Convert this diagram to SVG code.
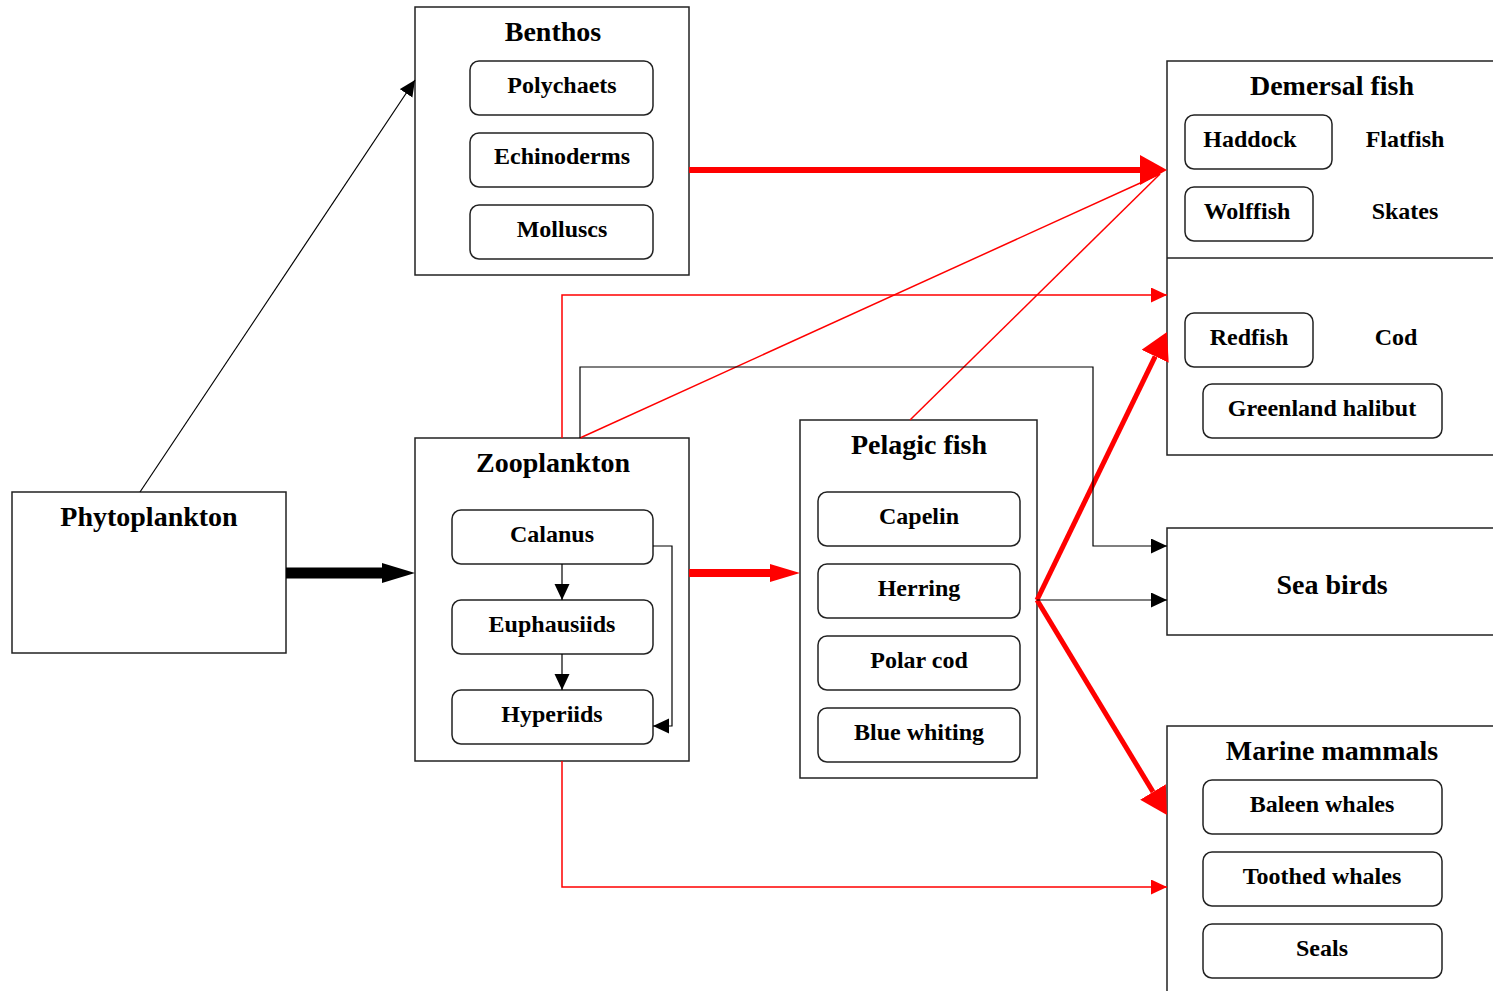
<svg xmlns="http://www.w3.org/2000/svg" width="1493" height="991" viewBox="0 0 1493 991">
<style>
.box{fill:#fff;stroke:#222;stroke-width:1.5}
.item{fill:#fff;stroke:#222;stroke-width:1.5}
.title{font-family:"Liberation Serif","Times New Roman",serif;font-weight:bold;font-size:28px;text-anchor:middle;fill:#000}
.lbl{font-family:"Liberation Serif","Times New Roman",serif;font-weight:bold;font-size:24px;text-anchor:middle;fill:#000}
.thin{fill:none;stroke:#000;stroke-width:1.2}
.thinred{fill:none;stroke:#f00;stroke-width:1.5}
</style>
<defs>
<marker id="aThin" markerUnits="userSpaceOnUse" orient="auto" markerWidth="16" markerHeight="16" refX="16" refY="7.5" viewBox="0 0 16 16"><path d="M0,0 L16,7.5 L0,15 z" fill="#000"/></marker>
<marker id="aThinRed" markerUnits="userSpaceOnUse" orient="auto" markerWidth="16" markerHeight="16" refX="16" refY="7.5" viewBox="0 0 16 16"><path d="M0,0 L16,7.5 L0,15 z" fill="#f00"/></marker>
<marker id="aBigBlack" markerUnits="userSpaceOnUse" orient="auto" markerWidth="34" markerHeight="22" refX="0" refY="10" viewBox="0 0 34 22"><path d="M0,0 L33,10 L0,20 z" fill="#000"/></marker>
<marker id="aBigRed" markerUnits="userSpaceOnUse" orient="auto" markerWidth="28" markerHeight="32" refX="0" refY="15" viewBox="0 0 28 32"><path d="M0,0 L27,15 L0,30 z" fill="#f00"/></marker>
<marker id="aMidRed" markerUnits="userSpaceOnUse" orient="auto" markerWidth="31" markerHeight="20" refX="0" refY="9" viewBox="0 0 31 20"><path d="M0,0 L30,9 L0,18 z" fill="#f00"/></marker>
<marker id="aDiagRed" markerUnits="userSpaceOnUse" orient="auto" markerWidth="28" markerHeight="32" refX="0" refY="15" viewBox="0 0 28 32"><path d="M0,0 L27,15 L0,30 z" fill="#f00"/></marker>
</defs>

<g id="phytoplankton">
<rect class="box" x="12" y="492" width="274" height="161"/>
<text class="title" x="149" y="526">Phytoplankton</text>
</g>

<g id="benthos">
<rect class="box" x="415" y="7" width="274" height="268"/>
<text class="title" x="553" y="41">Benthos</text>
<rect class="item" x="470" y="61" width="183" height="54" rx="9"/>
<text class="lbl" x="562" y="93">Polychaets</text>
<rect class="item" x="470" y="133" width="183" height="54" rx="9"/>
<text class="lbl" x="562" y="164">Echinoderms</text>
<rect class="item" x="470" y="205" width="183" height="54" rx="9"/>
<text class="lbl" x="562" y="237">Molluscs</text>
</g>

<g id="zooplankton">
<rect class="box" x="415" y="438" width="274" height="323"/>
<text class="title" x="553" y="472">Zooplankton</text>
<rect class="item" x="452" y="510" width="201" height="54" rx="9"/>
<text class="lbl" x="552" y="542">Calanus</text>
<rect class="item" x="452" y="600" width="201" height="54" rx="9"/>
<text class="lbl" x="552" y="632">Euphausiids</text>
<rect class="item" x="452" y="690" width="201" height="54" rx="9"/>
<text class="lbl" x="552" y="722">Hyperiids</text>
</g>

<g id="pelagic-fish">
<rect class="box" x="800" y="420" width="237" height="358"/>
<text class="title" x="919" y="454">Pelagic fish</text>
<rect class="item" x="818" y="492" width="202" height="54" rx="9"/>
<text class="lbl" x="919" y="524">Capelin</text>
<rect class="item" x="818" y="564" width="202" height="54" rx="9"/>
<text class="lbl" x="919" y="596">Herring</text>
<rect class="item" x="818" y="636" width="202" height="54" rx="9"/>
<text class="lbl" x="919" y="668">Polar cod</text>
<rect class="item" x="818" y="708" width="202" height="54" rx="9"/>
<text class="lbl" x="919" y="740">Blue whiting</text>
</g>

<g id="demersal-fish">
<rect class="box" x="1167" y="61" width="340" height="394"/>
<line x1="1167" y1="258" x2="1507" y2="258" stroke="#222" stroke-width="1.5"/>
<text class="title" x="1332" y="95">Demersal fish</text>
<rect class="item" x="1185" y="115" width="147" height="54" rx="9"/>
<text class="lbl" x="1250" y="147">Haddock</text>
<text class="lbl" x="1405" y="147">Flatfish</text>
<rect class="item" x="1185" y="187" width="128" height="54" rx="9"/>
<text class="lbl" x="1247" y="219">Wolffish</text>
<text class="lbl" x="1405" y="219">Skates</text>
<rect class="item" x="1185" y="313" width="128" height="54" rx="9"/>
<text class="lbl" x="1249" y="345">Redfish</text>
<text class="lbl" x="1396" y="345">Cod</text>
<rect class="item" x="1203" y="384" width="239" height="54" rx="9"/>
<text class="lbl" x="1322" y="416">Greenland halibut</text>
</g>

<g id="sea-birds">
<rect class="box" x="1167" y="528" width="340" height="107"/>
<text class="title" x="1332" y="594">Sea birds</text>
</g>

<g id="marine-mammals">
<rect class="box" x="1167" y="726" width="340" height="280"/>
<text class="title" x="1332" y="760">Marine mammals</text>
<rect class="item" x="1203" y="780" width="239" height="54" rx="9"/>
<text class="lbl" x="1322" y="812">Baleen whales</text>
<rect class="item" x="1203" y="852" width="239" height="54" rx="9"/>
<text class="lbl" x="1322" y="884">Toothed whales</text>
<rect class="item" x="1203" y="924" width="239" height="54" rx="9"/>
<text class="lbl" x="1322" y="956">Seals</text>
</g>

<g id="connectors">
<line class="thin" x1="140" y1="492" x2="415" y2="80" marker-end="url(#aThin)"/>
<line x1="286" y1="573" x2="382" y2="573" stroke="#000" stroke-width="11" marker-end="url(#aBigBlack)"/>
<line x1="580" y1="438" x2="1160" y2="174" class="thinred"/>
<line x1="910" y1="420" x2="1160" y2="174" class="thinred"/>
<line x1="689" y1="170" x2="1140" y2="170" stroke="#f00" stroke-width="6" marker-end="url(#aBigRed)"/>
<line x1="689" y1="573" x2="770" y2="573" stroke="#f00" stroke-width="8" marker-end="url(#aMidRed)"/>
<line x1="1037" y1="600" x2="1155.2" y2="356.3" stroke="#f00" stroke-width="5" marker-end="url(#aDiagRed)"/>
<line x1="1037" y1="600" x2="1153.0" y2="791.9" stroke="#f00" stroke-width="5" marker-end="url(#aDiagRed)"/>
<polyline class="thinred" points="562,438 562,295 1167,295" marker-end="url(#aThinRed)"/>
<polyline class="thinred" points="562,761 562,887 1167,887" marker-end="url(#aThinRed)"/>
<polyline class="thin" points="580,438 580,367 1093,367 1093,546 1167,546" marker-end="url(#aThin)"/>
<line class="thin" x1="1037" y1="600" x2="1167" y2="600" marker-end="url(#aThin)"/>
<polyline class="thin" points="653,546 672,546 672,726 653,726" marker-end="url(#aThin)"/>
<line class="thin" x1="562" y1="564" x2="562" y2="600" marker-end="url(#aThin)"/>
<line class="thin" x1="562" y1="654" x2="562" y2="690" marker-end="url(#aThin)"/>
</g>
</svg>
